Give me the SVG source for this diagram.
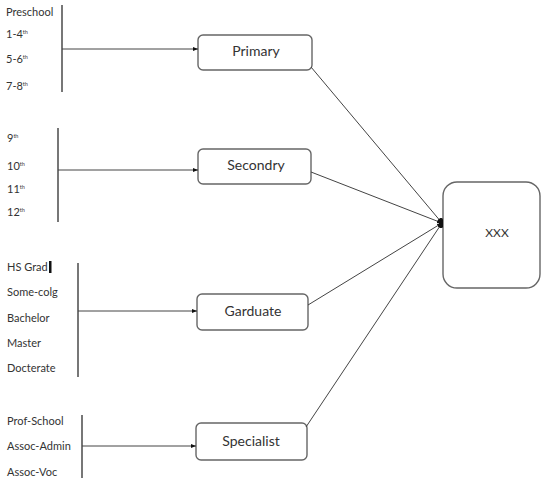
<svg xmlns="http://www.w3.org/2000/svg" width="544" height="478" viewBox="0 0 544 478">
  <style>
    .lbl { font-family: Lato, "Open Sans", "Liberation Sans", sans-serif; font-size: 11px; fill: #333; }
    .sup { font-size: 5.5px; }
    .box { fill: #fff; stroke: #666; stroke-width: 1.4; }
    .name { font-family: Lato, "Open Sans", "Liberation Sans", sans-serif; font-size: 14px; fill: #333; text-anchor: middle; }
    .bar { stroke: #555; stroke-width: 1.6; fill: none; }
    .edge { stroke: #444; stroke-width: 1; fill: none; }
  </style>
  <defs>
    <marker id="arr" viewBox="0 0 10 10" refX="10" refY="5" markerWidth="5" markerHeight="5" orient="auto" markerUnits="userSpaceOnUse">
      <path d="M0,1 L10,5 L0,9 Z" fill="#111"/>
    </marker>
  </defs>

  <!-- category lists -->
  <g id="list-primary">
    <text class="lbl" x="6" y="16">Preschool</text>
    <text class="lbl" x="6" y="38">1-4<tspan class="sup" dy="-4">th</tspan></text>
    <text class="lbl" x="6" y="63">5-6<tspan class="sup" dy="-4">th</tspan></text>
    <text class="lbl" x="6" y="90">7-8<tspan class="sup" dy="-4">th</tspan></text>
  </g>
  <g id="list-secondary">
    <text class="lbl" x="7" y="142">9<tspan class="sup" dy="-4">th</tspan></text>
    <text class="lbl" x="7" y="170">10<tspan class="sup" dy="-4">th</tspan></text>
    <text class="lbl" x="7" y="193">11<tspan class="sup" dy="-4">th</tspan></text>
    <text class="lbl" x="7" y="216">12<tspan class="sup" dy="-4">th</tspan></text>
  </g>
  <g id="list-graduate">
    <text class="lbl" x="7" y="271">HS Grad</text>
    <rect x="49" y="261" width="2.5" height="12" fill="#111"/>
    <text class="lbl" x="7" y="296">Some-colg</text>
    <text class="lbl" x="7" y="322">Bachelor</text>
    <text class="lbl" x="7" y="347">Master</text>
    <text class="lbl" x="7" y="372">Docterate</text>
  </g>
  <g id="list-specialist">
    <text class="lbl" x="7" y="425">Prof-School</text>
    <text class="lbl" x="7" y="450">Assoc-Admin</text>
    <text class="lbl" x="7" y="476">Assoc-Voc</text>
  </g>

  <!-- nodes -->
  <g id="primary">
    <rect class="box" x="198" y="35" width="114" height="35" rx="5"/>
    <text class="name" x="256" y="56">Primary</text>
  </g>
  <g id="secondry">
    <rect class="box" x="198" y="149" width="113" height="35" rx="5"/>
    <text class="name" x="256" y="170">Secondry</text>
  </g>
  <g id="garduate">
    <rect class="box" x="197" y="294" width="111" height="36" rx="5"/>
    <text class="name" x="253" y="316">Garduate</text>
  </g>
  <g id="specialist">
    <rect class="box" x="196" y="423" width="111" height="37" rx="5"/>
    <text class="name" x="251" y="446">Specialist</text>
  </g>
  <g id="xxx">
    <rect class="box" x="443" y="182" width="97" height="106" rx="14"/>
    <text class="name" x="497" y="237" style="font-size:12px">XXX</text>
  </g>

  <!-- connectors -->
  <g id="connectors">
    <line class="bar" x1="62" y1="5" x2="62" y2="92"/>
    <line class="bar" x1="58" y1="128" x2="58" y2="222"/>
    <line class="bar" x1="78" y1="263" x2="78" y2="377"/>
    <line class="bar" x1="82" y1="415" x2="82" y2="478"/>

    <line class="edge" x1="62" y1="49" x2="198" y2="49" marker-end="url(#arr)"/>
    <line class="edge" x1="58" y1="170" x2="198" y2="170" marker-end="url(#arr)"/>
    <line class="edge" x1="78" y1="311" x2="197" y2="311" marker-end="url(#arr)"/>
    <line class="edge" x1="82" y1="446" x2="196" y2="446" marker-end="url(#arr)"/>

    <line class="edge" x1="311" y1="67" x2="442" y2="223" marker-end="url(#arr)"/>
    <line class="edge" x1="311" y1="172" x2="442" y2="223" marker-end="url(#arr)"/>
    <line class="edge" x1="308" y1="305" x2="442" y2="223" marker-end="url(#arr)"/>
    <line class="edge" x1="306" y1="427" x2="442" y2="223" marker-end="url(#arr)"/>
    <!-- merged arrowheads at the entry point -->
    <rect x="439" y="218" width="4" height="10" rx="1.5" fill="#111"/>
  </g>
</svg>
